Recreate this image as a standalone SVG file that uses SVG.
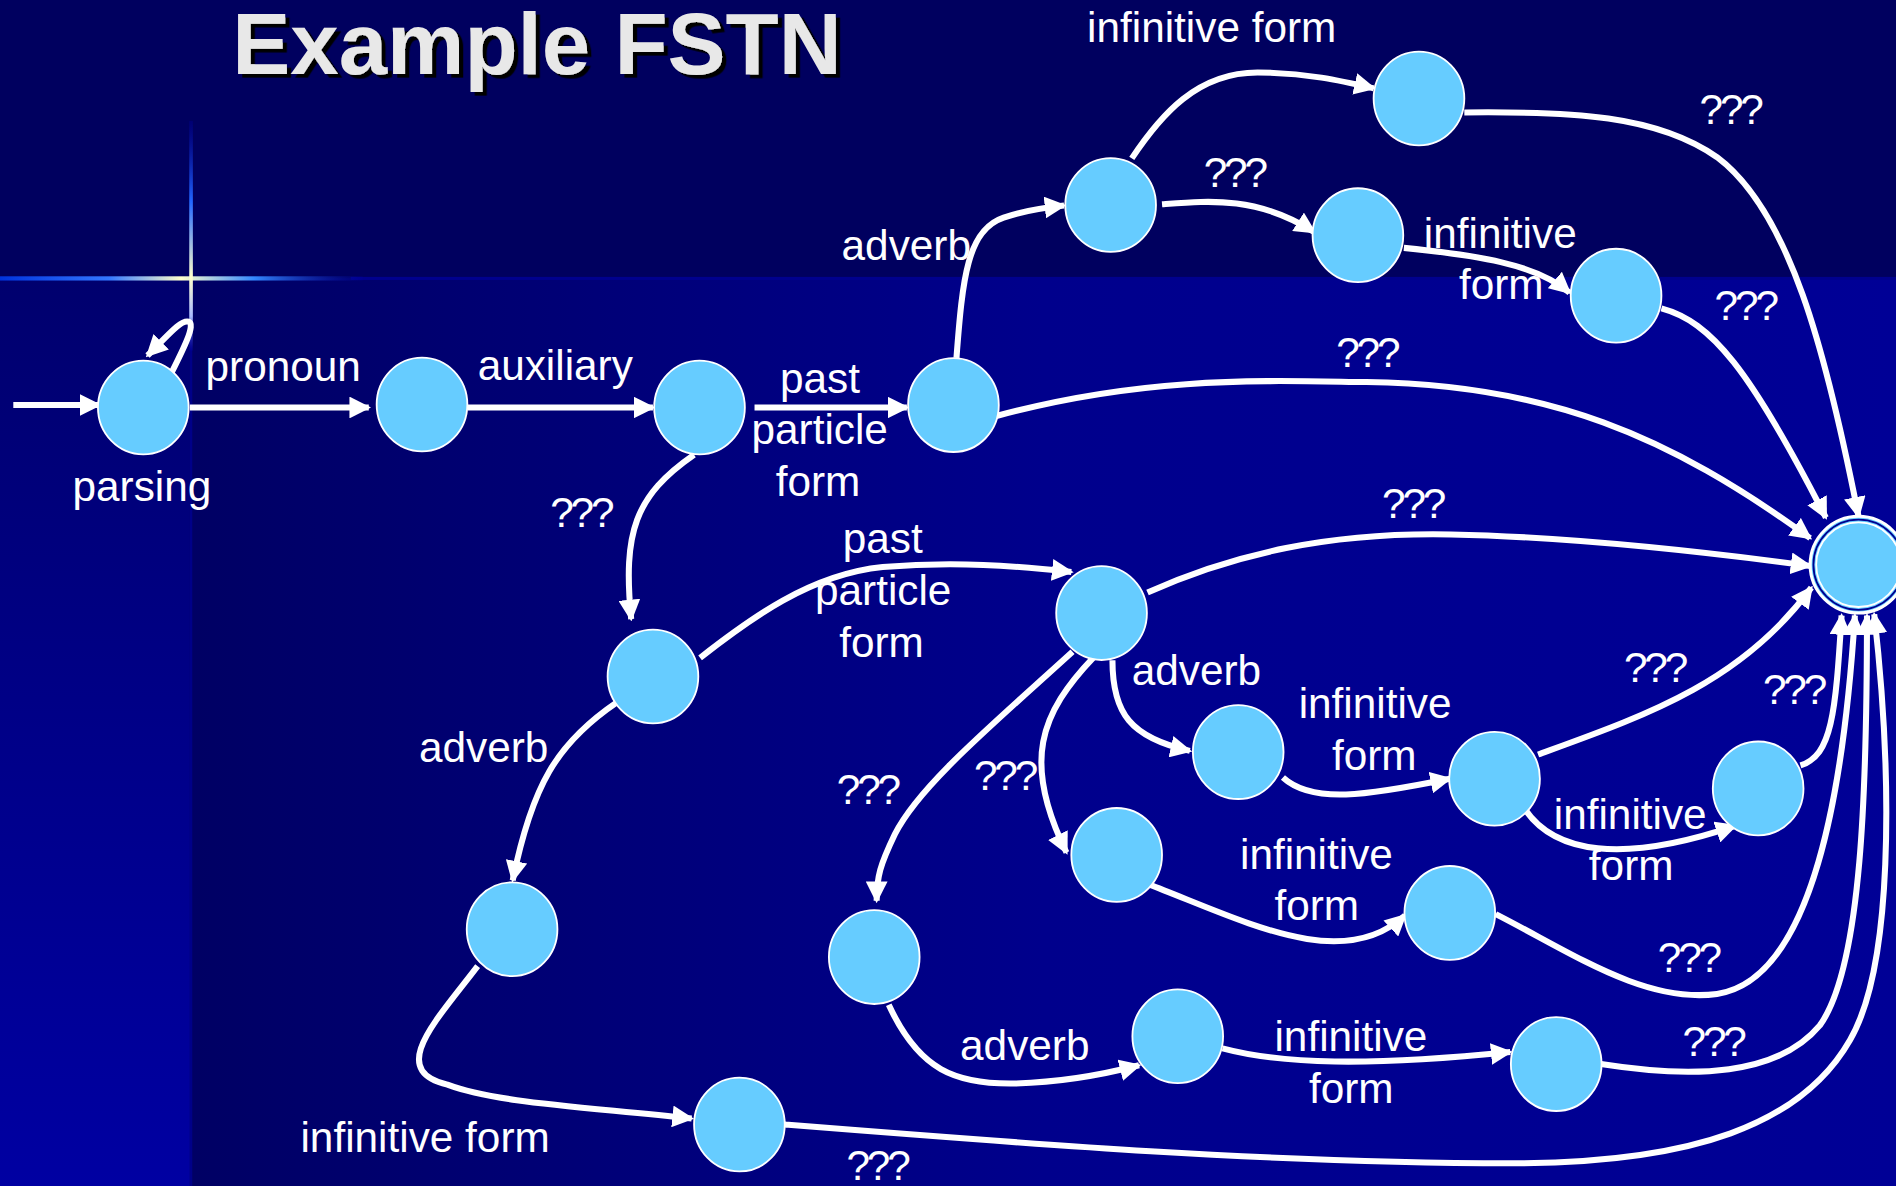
<svg xmlns="http://www.w3.org/2000/svg" width="1896" height="1186" viewBox="0 0 1896 1186">
<defs>
<style>
.node{fill:#66CCFF;stroke:#FFFFFF;stroke-width:1.5}
.edge{fill:none;stroke:#FFFFFF;stroke-width:5;marker-end:url(#ah)}
.lbl{font-family:"Liberation Sans",Arial,sans-serif;font-size:35px;fill:#FFFFFF}
.q{letter-spacing:-2.6px}
.title{font-family:"Liberation Sans",Arial,sans-serif;font-size:72px;font-weight:bold;fill:#E8E8E8}
</style>
<marker id="ah" viewBox="0 0 18 18" markerWidth="18" markerHeight="18" refX="16" refY="9" orient="auto" markerUnits="userSpaceOnUse">
<path d="M0,0 L18,9 L0,18 z" fill="#FFFFFF"/>
</marker>
<linearGradient id="lowBg" gradientUnits="userSpaceOnUse" x1="158" y1="0" x2="1568" y2="0">
<stop offset="0" stop-color="#000064"/>
<stop offset="0.5" stop-color="#00008C"/>
<stop offset="1" stop-color="#000096"/>
</linearGradient>
<linearGradient id="leftBg" gradientUnits="userSpaceOnUse" x1="0" y1="230" x2="0" y2="981">
<stop offset="0" stop-color="#00006E"/>
<stop offset="1" stop-color="#0000A2"/>
</linearGradient>
<linearGradient id="flareH" gradientUnits="userSpaceOnUse" x1="0" y1="0" x2="300" y2="0">
<stop offset="0" stop-color="#0033DD"/>
<stop offset="0.3" stop-color="#3377FF"/>
<stop offset="0.5" stop-color="#FFFFCC"/>
<stop offset="0.7" stop-color="#3388FF"/>
<stop offset="1" stop-color="#0000A0" stop-opacity="0.2"/>
</linearGradient>
<linearGradient id="flareV" gradientUnits="userSpaceOnUse" x1="0" y1="100" x2="0" y2="290">
<stop offset="0" stop-color="#0000A0" stop-opacity="0.3"/>
<stop offset="0.35" stop-color="#2266FF"/>
<stop offset="0.68" stop-color="#FFFFCC"/>
<stop offset="0.85" stop-color="#AABBFF"/>
<stop offset="1" stop-color="#0000A0" stop-opacity="0.3"/>
</linearGradient>
<filter id="shadow" x="-10%" y="-30%" width="120%" height="160%">
<feDropShadow dx="3.5" dy="3" stdDeviation="0" flood-color="#000000" flood-opacity="1"/>
</filter>
</defs>
<g transform="scale(1.20918)">
<g id="background">
<rect x="0" y="0" width="1568" height="981" fill="#00005F"/>
<rect x="0" y="230" width="1568" height="751" fill="url(#lowBg)"/>
<rect x="0" y="230" width="157" height="751" fill="url(#leftBg)"/>
<rect x="157" y="230" width="2" height="751" fill="#000088"/>
<rect x="290" y="229" width="1278" height="2.5" fill="#00008E"/>
<rect x="0" y="228.5" width="300" height="3.5" fill="url(#flareH)"/>
<rect x="156.5" y="100" width="3" height="190" fill="url(#flareV)"/>
</g>
<text class="title" x="192" y="61" filter="url(#shadow)">Example FSTN</text>
<g id="connectors">
<path class="edge" d="M11,335 L82,335"/>
<path class="edge" d="M142,308 C152,288 162,268 156,266 C150,264 140,276 122,294"/>
<path class="edge" d="M157,337 L305,337"/>
<path class="edge" d="M387,337 L540,337"/>
<path class="edge" d="M624,337 L750,337"/>
<path class="edge" d="M791,296 C796,230 800,190 830,180 C845,175 860,172 880,170"/>
<path class="edge" d="M936,131 C960,95 990,60 1040,60 C1080,60 1110,67 1136,73"/>
<path class="edge" d="M961,169 C1000,166 1040,162 1087,192"/>
<path class="edge" d="M1161,205 C1220,211 1270,218 1298,242"/>
<path class="edge" d="M1211,93 C1300,92 1370,95 1420,130 C1480,175 1510,290 1537,427"/>
<path class="edge" d="M1374,255 C1415,266 1447,305 1510,428"/>
<path class="edge" d="M824,344 C950,310 1050,315 1130,316 C1280,318 1380,360 1497,445"/>
<path class="edge" d="M574,376 C525,410 515,440 522,512"/>
<path class="edge" d="M579,544 C620,512 670,475 730,469 C790,464 840,468 886,473"/>
<path class="edge" d="M949,490 C1020,458 1100,440 1200,442 C1300,444 1400,455 1497,468"/>
<path class="edge" d="M510,581 C460,615 440,650 424,728"/>
<path class="edge" d="M395,799 C360,845 320,885 370,897 C410,912 480,915 572,925"/>
<path class="edge" d="M649,930 C850,946 1050,962 1250,962 C1400,962 1490,930 1530,860 C1565,800 1566,650 1550,508"/>
<path class="edge" d="M920,546 C920,590 935,610 984,621"/>
<path class="edge" d="M905,543 C860,590 845,630 882,705"/>
<path class="edge" d="M887,539 C820,600 760,650 740,690 C728,715 725,725 725,745"/>
<path class="edge" d="M1061,643 C1085,665 1130,658 1199,644"/>
<path class="edge" d="M1272,624 C1360,592 1440,565 1498,486"/>
<path class="edge" d="M1261,669 C1285,705 1340,715 1435,683"/>
<path class="edge" d="M1489,633 C1515,625 1518,590 1523,509"/>
<path class="edge" d="M949,731 C1030,762 1110,805 1162,757"/>
<path class="edge" d="M1237,756 C1300,788 1360,830 1420,822 C1500,810 1525,650 1534,509"/>
<path class="edge" d="M735,831 C760,885 790,897 840,896 C880,895 915,888 942,881"/>
<path class="edge" d="M1011,867 C1060,880 1130,882 1249,870"/>
<path class="edge" d="M1324,880 C1400,892 1470,890 1505,848 C1540,800 1544,650 1544,509"/>
</g>
<g id="labels">
<text class="lbl" x="170" y="315">pronoun</text>
<text class="lbl" x="395" y="314">auxiliary</text>
<text class="lbl"><tspan x="645" y="325">past</tspan><tspan x="621.5" y="367.5">particle</tspan><tspan x="641.5" y="410">form</tspan></text>
<text class="lbl" x="60" y="414.5">parsing</text>
<text class="lbl q" x="455" y="436">???</text>
<text class="lbl" x="696" y="215">adverb</text>
<text class="lbl" x="899" y="35">infinitive form</text>
<text class="lbl q" x="995.5" y="154.5">???</text>
<text class="lbl"><tspan x="1177.5" y="205">infinitive</tspan><tspan x="1206.5" y="247">form</tspan></text>
<text class="lbl q" x="1405.5" y="102.5">???</text>
<text class="lbl q" x="1418" y="265">???</text>
<text class="lbl q" x="1105" y="303.5">???</text>
<text class="lbl q" x="1143" y="428.5">???</text>
<text class="lbl"><tspan x="697" y="457.5">past</tspan><tspan x="674" y="500">particle</tspan><tspan x="694" y="543">form</tspan></text>
<text class="lbl" x="346.5" y="630.5">adverb</text>
<text class="lbl" x="248.5" y="952.5">infinitive form</text>
<text class="lbl q" x="700" y="976">???</text>
<text class="lbl q" x="692" y="664.5">???</text>
<text class="lbl q" x="805.5" y="653">???</text>
<text class="lbl" x="936" y="566.5">adverb</text>
<text class="lbl"><tspan x="1074" y="593.5">infinitive</tspan><tspan x="1101.5" y="636.5">form</tspan></text>
<text class="lbl q" x="1343" y="564">???</text>
<text class="lbl q" x="1458" y="582.5">???</text>
<text class="lbl"><tspan x="1285" y="685.5">infinitive</tspan><tspan x="1314" y="728">form</tspan></text>
<text class="lbl"><tspan x="1025.5" y="718.5">infinitive</tspan><tspan x="1054" y="761">form</tspan></text>
<text class="lbl q" x="1371" y="804">???</text>
<text class="lbl" x="794" y="876.5">adverb</text>
<text class="lbl"><tspan x="1054" y="869.5">infinitive</tspan><tspan x="1082.5" y="912.5">form</tspan></text>
<text class="lbl q" x="1391.5" y="873">???</text>
</g>
<g id="n1"><ellipse class="node" cx="118.5" cy="337" rx="37.5" ry="38.8"/></g>
<g id="n2"><ellipse class="node" cx="349" cy="334.5" rx="37.5" ry="38.8"/></g>
<g id="n3"><ellipse class="node" cx="578.5" cy="337" rx="37.5" ry="38.8"/></g>
<g id="n4"><ellipse class="node" cx="788.5" cy="335" rx="37.5" ry="38.8"/></g>
<g id="n5"><ellipse class="node" cx="918.5" cy="169.5" rx="37.5" ry="38.8"/></g>
<g id="n6"><ellipse class="node" cx="1173.5" cy="81.5" rx="37.5" ry="38.8"/></g>
<g id="n7"><ellipse class="node" cx="1123" cy="194.5" rx="37.5" ry="38.8"/></g>
<g id="n8"><ellipse class="node" cx="1336.5" cy="244.5" rx="37.5" ry="38.8"/></g>
<g id="n9"><ellipse class="node" cx="540" cy="559.5" rx="37.5" ry="38.8"/></g>
<g id="n10"><ellipse class="node" cx="911" cy="507" rx="37.5" ry="38.8"/></g>
<g id="n11"><ellipse class="node" cx="423.5" cy="768.5" rx="37.5" ry="38.8"/></g>
<g id="n12"><ellipse class="node" cx="1024" cy="622" rx="37.5" ry="38.8"/></g>
<g id="n13"><ellipse class="node" cx="1236" cy="644" rx="37.5" ry="38.8"/></g>
<g id="n14"><ellipse class="node" cx="1454" cy="652" rx="37.5" ry="38.8"/></g>
<g id="n15"><ellipse class="node" cx="923.5" cy="707" rx="37.5" ry="38.8"/></g>
<g id="n16"><ellipse class="node" cx="1199" cy="755" rx="37.5" ry="38.8"/></g>
<g id="n17"><ellipse class="node" cx="723" cy="791.5" rx="37.5" ry="38.8"/></g>
<g id="n18"><ellipse class="node" cx="974" cy="857" rx="37.5" ry="38.8"/></g>
<g id="n19"><ellipse class="node" cx="1287" cy="880" rx="37.5" ry="38.8"/></g>
<g id="n20"><ellipse class="node" cx="611.5" cy="930" rx="37.5" ry="38.8"/></g>
<g id="final">
<circle cx="1537" cy="467" r="40" fill="#66CCFF" stroke="#FFFFFF" stroke-width="2.5"/>
<circle cx="1537" cy="467" r="37.3" fill="none" stroke="#000090" stroke-width="1.5"/>
<circle cx="1537" cy="467" r="35" fill="#66CCFF" stroke="#FFFFFF" stroke-width="1.5"/>
</g>
</g>
</svg>
